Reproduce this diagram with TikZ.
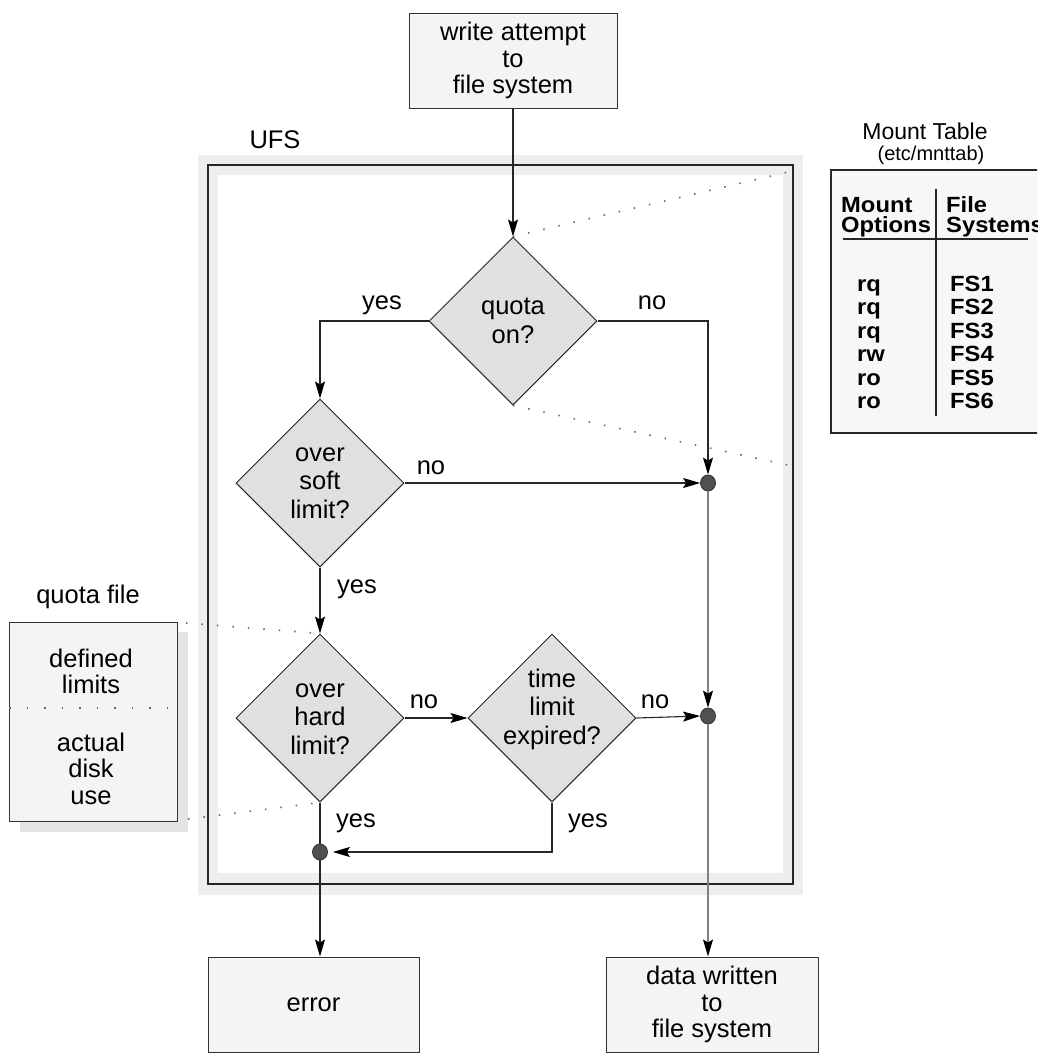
\documentclass[tikz,border=0pt]{standalone}
\usepackage{fontspec}
\setmainfont{Liberation Sans}
\newfontfamily\tblfont[FakeStretch=1.08]{Liberation Sans}
\usetikzlibrary{shapes.geometric,arrows.meta}
\definecolor{boxgray}{HTML}{F4F4F4}
\definecolor{diagray}{HTML}{E0E0E0}
\definecolor{bandgray}{HTML}{EEEEEE}
\definecolor{shadowgray}{HTML}{E4E4E4}
\definecolor{dotgray}{HTML}{505050}
\definecolor{tablefill}{HTML}{F7F7F7}
\begin{document}
\begin{tikzpicture}[x=1pt,y=-1pt,
  txt/.style={font=\fontsize{25.5}{28.5}\selectfont, align=center, inner sep=0pt},
  boxtxt/.style={font=\fontsize{25.5}{26.5}\selectfont, align=center},
  fbox/.style={draw=black!80, fill=boxgray, line width=1pt, inner sep=0pt, boxtxt},
  dia/.style={diamond, draw=black!85, fill=diagray, line width=1pt, minimum width=168pt, minimum height=168pt, inner sep=0pt},
  jdot/.style={ellipse, draw=black!80, fill=dotgray, minimum width=15pt, minimum height=16pt, inner sep=0pt, line width=0.8pt},
  flow/.style={draw=black!85, line width=1.1pt, -{Stealth[length=17pt,width=10pt,inset=3pt,color=black]}},
  plainl/.style={draw=black!85, line width=1.1pt},
  grayflow/.style={flow, draw=black!50},
  dotl/.style={draw=black!60, line width=1.6pt, dash pattern=on 1.5pt off 14pt},
  lbl/.style={font=\fontsize{25.5}{28.5}\selectfont, inner sep=0pt, anchor=base},
  tb/.style={font={\tblfont\bfseries\fontsize{22}{23.5}\selectfont}, inner sep=0pt, anchor=base west},
]
\useasboundingbox (0,0) rectangle (1037,1053);
\clip (0,0) rectangle (1037,1053);

% UFS frame
\fill[bandgray] (198,155) rectangle (803,895);
\fill[white] (218,175) rectangle (783,873);
\draw[black!85, line width=1.3pt] (208,165) rectangle (793,884);
\node[txt] (ufs) at (275,140) {UFS};

% boxes
\node[fbox, minimum width=208pt, minimum height=95pt] (start) at (513,60.5) {write attempt\\to\\file system};
\node[fbox, minimum width=211pt, minimum height=95pt] (err) at (313.5,1004.5) {error};
\node[fbox, minimum width=212pt, minimum height=95pt] (data) at (712,1004.5) {data written\\to\\file system};

% decisions
\node[dia] (q) at (513,321) {};
\node[txt] (qt) at (q) {quota\\on?};
\node[dia] (soft) at (320,483) {};
\node[txt] (softt) at (soft) {over\\soft\\limit?};
\node[dia] (hard) at (320,718) {};
\node[txt] (hardt) at (320,719) {over\\hard\\limit?};
\node[dia] (time) at (552,718) {};
\node[txt] (timet) at (552,709) {time\\limit\\expired?};

% junction dots
\node[jdot] (d1) at (708,483) {};
\node[jdot] (d2) at (708,716) {};
\node[jdot] (d3) at (320,852) {};

% connectors
\draw[flow] (start) -- (q.north);
\draw[flow] (q.west) -| (soft.north);
\draw[flow] (q.east) -| (d1.north);
\draw[flow] (soft.east) -- (d1.west);
\draw[flow] (soft.south) -- (hard.north);
\draw[flow] (hard.east) -- (time.west);
\draw[flow] (time.east) -- (d2.west);
\draw[grayflow] (d1.south) -- (d2.north);
\draw[flow, shorten >=5pt] (time.south) |- (d3.east);
\draw[plainl] (hard.south) -- (d3.north);
\draw[flow] (d3.south) -- (d3 |- err.north);
\draw[grayflow] (d2.south) -- (d2 |- data.north);

% connector labels
\node[lbl] (l1) at (382,309) {yes};
\node[lbl] (l2) at (652,309) {no};
\node[lbl] (l3) at (431,474) {no};
\node[lbl] (l4) at (357,593) {yes};
\node[lbl] (l5) at (424,708) {no};
\node[lbl] (l6) at (655,708) {no};
\node[lbl] (l7) at (356,827) {yes};
\node[lbl] (l8) at (588,827) {yes};

% quota file
\node[txt] (qfl) at (88,597) {quota file};
\fill[shadowgray] (20,632) rectangle (188,832);
\node[draw=black!80, fill=boxgray, line width=1pt, minimum width=168pt, minimum height=199pt, inner sep=0pt] (qf) at (93,721.5) {};
\draw[dotl, line width=1.3pt, dash pattern=on 1.5pt off 16pt] (9,708) -- (177,708);
\node[boxtxt] (qft1) at (91,671.5) {defined\\limits};
\node[boxtxt] (qft2) at (91,768.5) {actual\\disk\\use};
\coordinate (qfa) at (186,623);
\coordinate (qfb) at (188,819);
\draw[dotl] (qfa) -- (hard.north);
\draw[dotl] (qfb) -- (hard.south);

% mount table
\node[font=\fontsize{23}{25}\selectfont, inner sep=0pt] (mt) at (925,131) {Mount Table};
\node[font=\fontsize{20}{22}\selectfont, inner sep=0pt] (etc) at (931,155) {(etc/mnttab)};
\draw[black!85, fill=tablefill, line width=1.5pt] (831,170) rectangle (1050,433);
\coordinate (mta) at (797,170);
\coordinate (mtb) at (797,467);
\draw[dotl] (q.north) -- (mta);
\draw[dotl] (q.south) -- (mtb);
\draw[black!85, line width=1.2pt] (936,189) -- (936,416);
\draw[black!85, line width=1.2pt] (843,239) -- (1028,239);
\node[tb] (h1) at (841,212) {Mount};
\node[tb] (h2) at (841,232) {Options};
\node[tb] (h3) at (946,212) {File};
\node[tb] (h4) at (946,232) {Systems};
\foreach \o/\f [count=\i] in {rq/FS1,rq/FS2,rq/FS3,rw/FS4,ro/FS5,ro/FS6} {
  \node[tb] (o\i) at (857,{291+23.5*(\i-1)}) {\o};
  \node[tb] (f\i) at (950,{291+23.5*(\i-1)}) {\f};
}
\end{tikzpicture}
\end{document}
